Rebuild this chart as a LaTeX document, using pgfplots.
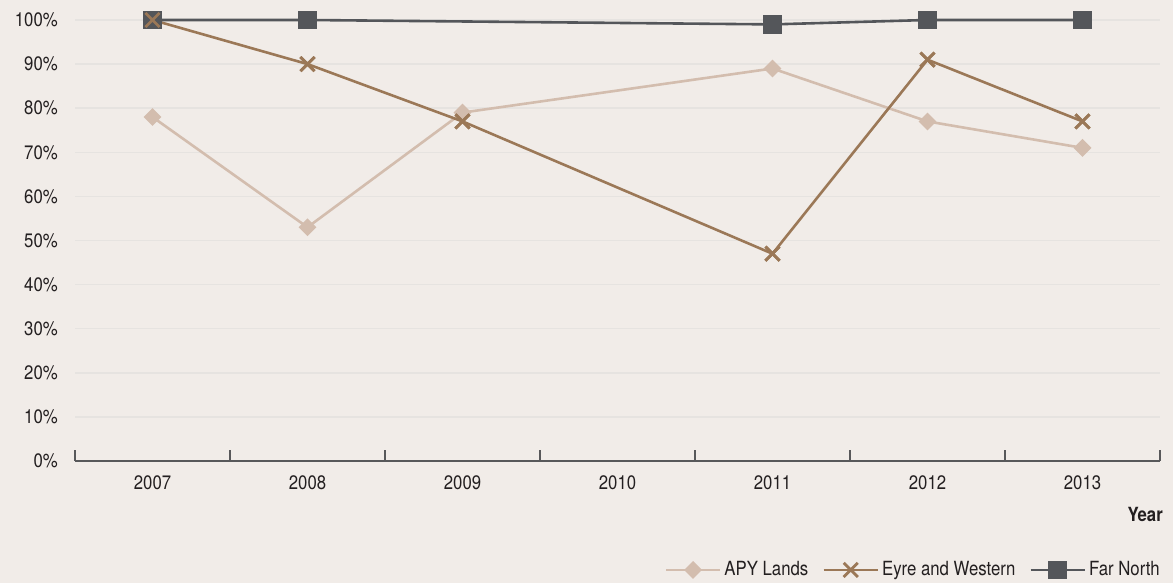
\documentclass[border=0pt]{standalone}
\usepackage{fontspec}
\setmainfont[FakeStretch=0.86]{TeX Gyre Heros}
\usepackage{pgfplots}
\pgfplotsset{compat=1.18}

\definecolor{bg}{HTML}{F1ECE8}
\definecolor{gridc}{HTML}{E6E3E0}
\definecolor{axisc}{HTML}{58585A}
\definecolor{txt}{HTML}{231F20}
\definecolor{apy}{HTML}{D3BDAE}
\definecolor{eyre}{HTML}{9B7857}
\definecolor{farnorth}{HTML}{54565A}

\begin{document}
\fontsize{19.5bp}{23bp}\selectfont
\begin{tikzpicture}[x=1bp,y=1bp]
\fill[bg] (0,0) rectangle (1173,583);
\begin{axis}[
  at={(75bp,122bp)}, anchor=south west,
  scale only axis, width=1085bp, height=441bp,
  xmin=-0.5, xmax=6.5, ymin=0, ymax=100,
  clip=false,
  axis x line*=bottom, axis y line*=left,
  x axis line style={-, draw=axisc, line width=1.4bp},
  y axis line style={draw=none},
  tick align=inside,
  xtick={0,...,6},
  xticklabels={2007,2008,2009,2010,2011,2012,2013},
  major x tick style={draw=none},
  minor xtick={-0.5,0.5,...,6.5},
  minor tick length=11bp,
  minor x tick style={draw=axisc, line width=1.4bp},
  ytick={0,10,...,100},
  yticklabel={\pgfmathprintnumber{\tick}\%},
  major tick length=0pt,
  ymajorgrids,
  grid style={gridc, line width=1.5bp},
  /pgf/number format/assume math mode=true,
  tick label style={text=txt},
  yticklabel style={anchor=east, inner sep=0pt, xshift=-17bp},
  xticklabel style={anchor=north, inner sep=0pt, yshift=-14bp},
  xlabel={\textbf{Year}},
  xlabel style={at={(rel axis cs:1,0)}, anchor=north east, inner sep=0pt,
                yshift=-46bp, xshift=3bp, text=txt},
  legend columns=3,
  legend style={at={(1,-0.247)}, anchor=east, draw=none, fill=none,
                inner sep=0pt, text=txt,
                nodes={inner sep=0pt, anchor=west},
                /tikz/every odd column/.style={column sep=3bp},
                /tikz/every even column/.style={column sep=14bp}},
  legend image code/.code={
    \draw[#1, line width=2.8bp] (0bp,0bp) -- (54bp,0bp);
    \path[#1] plot[only marks] coordinates {(27bp,0bp)};
  },
]
% APY Lands (no 2010 value)
\addplot[apy, line width=2.6bp, mark=square*, mark size=5bp,
         mark options={rotate=45, solid}]
  coordinates {(0,78) (1,53) (2,79) (4,89) (5,77) (6,71)};
\addlegendentry{APY Lands}
% Eyre and Western
\addplot[eyre, line width=2.6bp, mark=x, mark size=10bp,
         mark options={solid, line width=2.8bp}]
  coordinates {(0,100) (1,90) (2,77) (4,47) (5,91) (6,77)};
\addlegendentry{Eyre and Western}
% Far North
\addplot[farnorth, line width=2.6bp, mark=square*, mark size=8bp,
         mark options={solid}]
  coordinates {(0,100) (1,100) (4,99) (5,100) (6,100)};
\addlegendentry{Far North}
% Eyre and Western markers again, kept above the Far North squares
\addplot[eyre, only marks, mark=x, mark size=10bp,
         mark options={solid, line width=2.8bp}, forget plot]
  coordinates {(0,100) (1,90) (2,77) (4,47) (5,91) (6,77)};
\end{axis}
\end{tikzpicture}
\end{document}
